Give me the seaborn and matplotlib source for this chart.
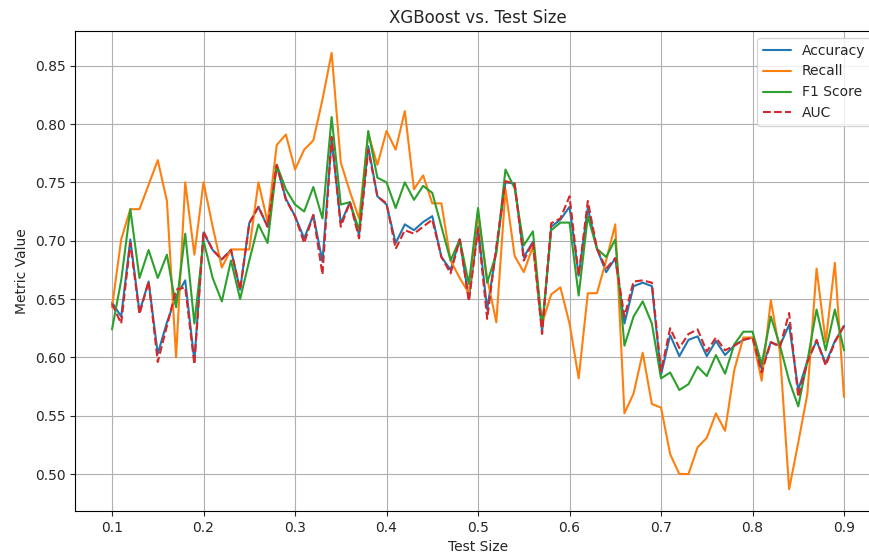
import matplotlib
matplotlib.use("Agg")
import matplotlib.pyplot as plt
import seaborn as sns
import numpy as np

# Test-set fractions evaluated (0.10 .. 0.90 in steps of 0.01)
test_sizes = [round(0.10 + 0.01 * i, 2) for i in range(81)]

accuracy = [
    0.647, 0.635, 0.701, 0.639, 0.665, 0.603, 0.630, 0.652, 0.666, 0.597,
    0.707, 0.692, 0.684, 0.692, 0.658, 0.715, 0.729, 0.712, 0.764, 0.736,
    0.721, 0.702, 0.722, 0.682, 0.787, 0.715, 0.733, 0.705, 0.781, 0.738,
    0.731, 0.698, 0.714, 0.709, 0.716, 0.721, 0.686, 0.675, 0.701, 0.650,
    0.712, 0.641, 0.692, 0.750, 0.749, 0.686, 0.699, 0.622, 0.712, 0.718,
    0.729, 0.670, 0.728, 0.693, 0.673, 0.685, 0.629, 0.661, 0.664, 0.661,
    0.585, 0.619, 0.601, 0.615, 0.618, 0.601, 0.614, 0.602, 0.610, 0.615,
    0.617, 0.590, 0.613, 0.610, 0.628, 0.572, 0.597, 0.614, 0.595, 0.614,
    0.627,
]

recall = [
    0.643, 0.701, 0.727, 0.727, 0.748, 0.769, 0.734, 0.600, 0.750, 0.688,
    0.750, 0.712, 0.677, 0.6925, 0.6925, 0.6925, 0.750, 0.716, 0.782, 0.791,
    0.761, 0.778, 0.786, 0.821, 0.861, 0.767, 0.742, 0.719, 0.792, 0.765,
    0.794, 0.778, 0.811, 0.744, 0.756, 0.732, 0.732, 0.683, 0.668, 0.655,
    0.723, 0.668, 0.630, 0.744, 0.687, 0.673, 0.695, 0.629, 0.654, 0.660,
    0.629, 0.582, 0.655, 0.655, 0.683, 0.714, 0.552, 0.569, 0.604, 0.560,
    0.557, 0.517, 0.500, 0.500, 0.523, 0.531, 0.552, 0.537, 0.589, 0.617,
    0.617, 0.580, 0.649, 0.604, 0.487, 0.527, 0.569, 0.676, 0.613, 0.681,
    0.566,
]

f1_score = [
    0.624, 0.666, 0.727, 0.668, 0.692, 0.668, 0.688, 0.643, 0.706, 0.629,
    0.700, 0.668, 0.648, 0.683, 0.650, 0.683, 0.714, 0.698, 0.765, 0.744,
    0.731, 0.725, 0.746, 0.719, 0.806, 0.731, 0.733, 0.709, 0.794, 0.754,
    0.750, 0.728, 0.750, 0.735, 0.747, 0.741, 0.712, 0.683, 0.701, 0.663,
    0.728, 0.664, 0.689, 0.761, 0.745, 0.696, 0.708, 0.626, 0.709, 0.7155,
    0.7155, 0.653, 0.721, 0.693, 0.686, 0.701, 0.610, 0.635, 0.648, 0.629,
    0.582, 0.587, 0.572, 0.577, 0.592, 0.584, 0.602, 0.586, 0.611, 0.622,
    0.622, 0.594, 0.635, 0.610, 0.580, 0.558, 0.597, 0.641, 0.606, 0.641,
    0.606,
]

auc = [
    0.646, 0.629, 0.698, 0.637, 0.665, 0.596, 0.627, 0.658, 0.660, 0.594,
    0.708, 0.692, 0.684, 0.692, 0.658, 0.715, 0.729, 0.712, 0.765, 0.735,
    0.721, 0.698, 0.722, 0.671, 0.789, 0.712, 0.733, 0.702, 0.778, 0.738,
    0.732, 0.693, 0.709, 0.706, 0.712, 0.718, 0.686, 0.672, 0.701, 0.648,
    0.710, 0.633, 0.695, 0.751, 0.749, 0.683, 0.699, 0.620, 0.715, 0.719,
    0.738, 0.670, 0.734, 0.693, 0.676, 0.685, 0.635, 0.665, 0.666, 0.664,
    0.588, 0.625, 0.608, 0.620, 0.624, 0.605, 0.617, 0.606, 0.610, 0.615,
    0.617, 0.587, 0.613, 0.609, 0.638, 0.566, 0.596, 0.615, 0.593, 0.613,
    0.627,
]

sns.set_style("ticks")
plt.rcParams["font.family"] = ["DejaVu Sans"]
plt.rcParams["savefig.bbox"] = "standard"

fig = plt.figure(figsize=(8.69, 5.56), dpi=100)
# plot area runs up to the right edge of the canvas, cut off like a cropped view
ax = fig.add_axes([0.0868, 0.0809, 1.0 - 0.0868, 0.8633])

palette = sns.color_palette("tab10")
sns.lineplot(x=test_sizes, y=accuracy, ax=ax, color=palette[0], label="Accuracy", linewidth=1.5)
sns.lineplot(x=test_sizes, y=recall, ax=ax, color=palette[1], label="Recall", linewidth=1.5)
sns.lineplot(x=test_sizes, y=f1_score, ax=ax, color=palette[2], label="F1 Score", linewidth=1.5)
sns.lineplot(x=test_sizes, y=auc, ax=ax, color=palette[3], label="AUC", linewidth=1.5, linestyle="--")

ax.set_xlim(0.06, 0.9273)
ax.set_title("XGBoost vs. Test Size", fontsize=12, x=0.5 * 0.88 / 0.8673)
ax.set_xlabel("Test Size", fontsize=10)
ax.xaxis.set_label_coords(0.5 * 0.88 / 0.8673, -0.06)
ax.set_ylabel("Metric Value", fontsize=10)
ax.set_xticks(np.round(np.arange(0.1, 0.91, 0.1), 1))
ax.grid(True, color="#b0b0b0", linewidth=0.8)
ax.tick_params(labelsize=10)
for side in ax.spines.values():
    side.set_color("black")
    side.set_linewidth(0.8)
ax.spines["right"].set_visible(False)

leg = ax.legend(loc="upper right", bbox_to_anchor=(1.011, 1.0), fontsize=10)
leg.set_in_layout(False)

fig.savefig("out.png", dpi=100, bbox_inches=None)
